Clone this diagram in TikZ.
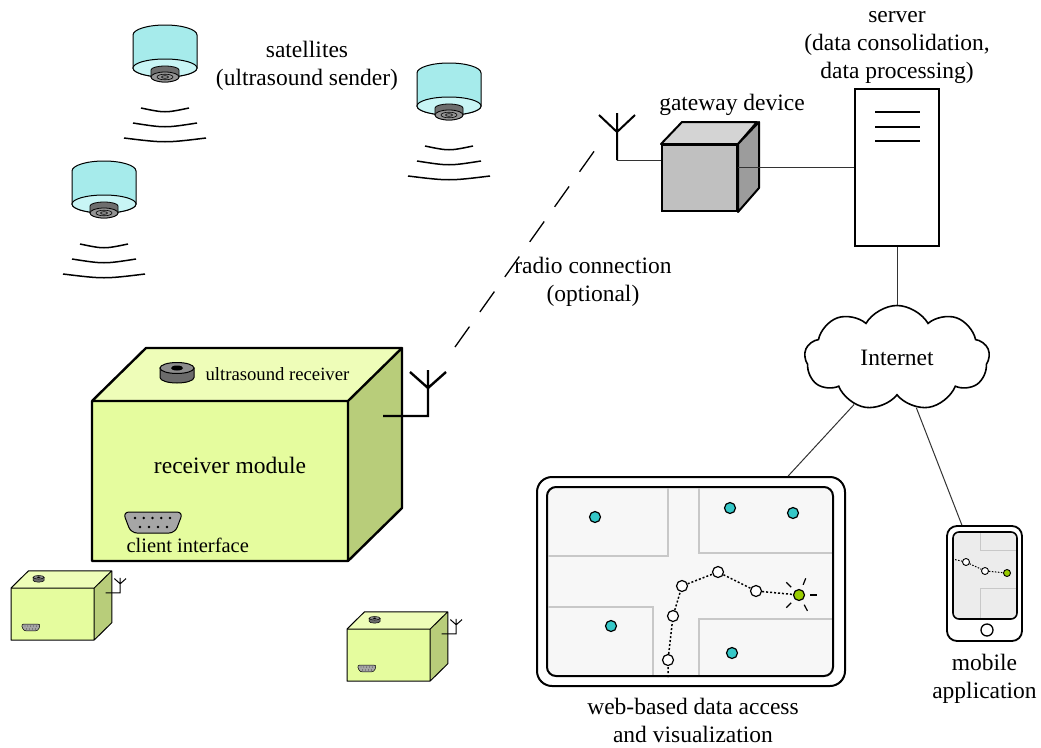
\documentclass[tikz,border=0pt]{standalone}
\usepackage{fontspec}
\setmainfont{Liberation Serif}
\usetikzlibrary{
  positioning,
  shapes.symbols,
}

\definecolor{satbody}{HTML}{A6EBEB}
\definecolor{satbase}{HTML}{C8F5F5}
\definecolor{modfront}{HTML}{E5FC9E}
\definecolor{modtop}{HTML}{EEFDB8}
\definecolor{modside}{HTML}{B8CD7A}
\definecolor{gwfront}{HTML}{C0C0C0}
\definecolor{gwtop}{HTML}{D4D4D4}
\definecolor{gwside}{HTML}{9C9C9C}
\definecolor{mapbg}{HTML}{F7F7F7}
\definecolor{phonebg}{HTML}{ECECEC}
\definecolor{streetgray}{HTML}{C8C8C8}
\definecolor{shopcyan}{HTML}{35C8C8}
\definecolor{herelime}{HTML}{99CC00}

\tikzset{
  lbl/.style={font=\fontsize{23.5}{28}\selectfont, align=center},
  mod edge/.style={line width=2.4},
  mod thin/.style={line width=1},
  plug/.style={rounded corners=6},
  wave/.style={line width=1.5},
  antenna/.style={line width=2},
  net/.style={line width=1, black!80},
  street/.style={line width=1.3, streetgray},
  track/.style={line width=1.5, dash pattern=on 2pt off 2pt},
  stop/.style={circle, draw, fill=white, line width=1.2, minimum size=11, inner sep=0pt},
  shop/.style={fill=shopcyan, draw, line width=1.2},
  small module/.style={scale=0.325,
    mod edge/.style={line width=1},
    mod thin/.style={line width=0.5},
    plug/.style={rounded corners=2.5}},
  % ceiling satellite, seen from below
  satellite/.pic={
    \filldraw[satbody, draw=black, line width=1]
      (-32,10) arc[start angle=180, end angle=360, x radius=32, y radius=10]
      -- (32,43) arc[start angle=0, end angle=180, x radius=32, y radius=9] -- cycle;
    \filldraw[satbase, draw=black, line width=1] (0,43) ellipse[x radius=32, y radius=9];
    \filldraw[black!57, draw=black, line width=0.8]
      (-14,45) arc[start angle=180, end angle=360, x radius=14, y radius=4]
      -- (14,52) arc[start angle=0, end angle=180, x radius=14, y radius=5] -- cycle;
    \filldraw[black!42, draw=black, line width=0.8] (0,52) ellipse[x radius=14, y radius=5];
    \draw[line width=0.6] (0,52) ellipse[x radius=8, y radius=2.8]
      (0,52) ellipse[x radius=3.5, y radius=1.3];
    \foreach \d/\w in {85/24, 100/32, 115/41}
      \draw[wave] (-\w,\d-2) .. controls (0,\d+3) .. (\w,\d-2);
  },
  % receiver box with sensor, connector and antenna
  recv module/.pic={
    \fill[modfront] (0,0) rectangle (256,160);
    \fill[modtop] (0,0) -- (54,-53) -- (310,-53) -- (256,0) -- cycle;
    \fill[modside] (256,0) -- (310,-53) -- (310,107) -- (256,160) -- cycle;
    \draw[mod edge, line join=round] (0,0) rectangle (256,160)
      (0,0) -- (54,-53) -- (310,-53) -- (256,0)
      (310,-53) -- (310,107) -- (256,160);
    % ultrasound sensor
    \filldraw[black!58, draw=black, mod thin] (68,-33) -- (68,-23.5)
      arc[start angle=180, end angle=0, x radius=17, y radius=5.5] -- (102,-33) -- cycle;
    \filldraw[black!45, draw=black, mod thin] (85,-33) ellipse[x radius=17, y radius=5.5];
    \fill (85,-33) ellipse[x radius=6, y radius=2.5];
    % client connector
    \filldraw[black!35, draw=black, mod thin, plug]
      (31,111) -- (91,111) -- (83,132) -- (39,132) -- cycle;
    \foreach \x in {43,51.75,60.5,69.25,78} \fill (\x,117) circle[radius=1.3];
    \foreach \x in {48,57,66,75} \fill (\x,126) circle[radius=1.3];
    % antenna
    \draw[mod edge] (291,15) -- (336,15) -- (336,-31)
      (318,-29) -- (336,-13) -- (354,-29);
  },
}

\begin{document}
\begin{tikzpicture}[x=1pt, y=-1pt]
  \useasboundingbox (0,0) rectangle (1041,747);

  % satellites on the ceiling
  \pic at (165,25) {satellite};
  \pic at (449,63) {satellite};
  \pic at (104,161) {satellite};
  \node[lbl] (satlabel) at (307,66) {satellites\\(ultrasound sender)};

  % receiver modules
  \pic at (92,401) {recv module};
  \pic[small module] at (11,588) {recv module};
  \pic[small module] at (347,629) {recv module};
  \node[font=\fontsize{18.7}{22}\selectfont, anchor=west] (sensorlabel) at (202,374) {ultrasound receiver};
  \node[lbl] (modlabel) at (230,465) {receiver module};
  \node[font=\fontsize{20.5}{24}\selectfont, anchor=west] (iflabel) at (123,545) {client interface};

  % gateway
  \node[draw, fill=gwfront, line width=2, minimum width=75, minimum height=66, inner sep=0pt]
    (gateway) at (699.5,178) {};
  \filldraw[gwtop, draw=black, line width=2, line join=round]
    (gateway.north west) -- ++(21,-22) -- ++(75,0) -- (gateway.north east) -- cycle;
  \filldraw[gwside, draw=black, line width=2, line join=round]
    (gateway.north east) -- ++(21,-22) -- ++(0,66) -- (gateway.south east) -- cycle;
  \node[lbl] (gwlabel) at (732,105) {gateway device};

  \coordinate (gw ant) at (617,160);
  \draw[antenna] (617,113) -- (gw ant) (599,115) -- (617,132) -- (635,115);
  \draw[net] (gw ant) -- (gw ant -| gateway.west);

  % radio link
  \coordinate (radio a) at (455,347);
  \coordinate (radio b) at (595,150);
  \draw[line width=1.3, dash pattern=on 25pt off 18pt] (radio a) -- (radio b);
  \node[lbl] (radiolabel) at (593,282) {radio connection\\(optional)};

  % server
  \node[draw, fill=white, line width=1.6, minimum width=84, minimum height=157, inner sep=0pt]
    (server) at (897,167.5) {};
  \foreach \y in {112,127,141}
    \draw[line width=1.6] (875,\y) -- (920,\y);
  \node[lbl] (srvlabel) at (897,47) {server\\(data consolidation,\\data processing)};
  \draw[net] (server.west) -- (server.west -| gateway.east);

  % internet
  \node[lbl, cloud, cloud puffs=9, cloud puff arc=120, aspect=1.76, draw, fill=white,
        line width=1.6, minimum width=185, minimum height=105, inner sep=0pt]
    (internet) at (897,358) {Internet};
  \draw[net] (server) -- (internet);

  % web map
  \node[draw, line width=2, rounded corners=15, minimum width=308, minimum height=209]
    (tablet) at (691,581.5) {};
  \node[draw, fill=mapbg, line width=2, rounded corners=9, minimum width=286, minimum height=189]
    (map) at (690,581.5) {};
  \draw[street] (668,488) -- (668,556) -- (548,556)
    (699,488) -- (699,553) -- (832,553)
    (548,607) -- (653,607) -- (653,675)
    (699,675) -- (699,619) -- (832,619);
  \foreach \p in {(595,517),(730,508),(793,513),(611,626),(732,653)}
    \filldraw[shop] \p circle[radius=5.5];
  \node[stop] (s1) at (668,660) {};
  \node[stop] (s2) at (673,616) {};
  \node[stop] (s3) at (682,586) {};
  \node[stop] (s4) at (718,572) {};
  \node[stop] (s5) at (756,591) {};
  \node[stop, fill=herelime] (here) at (799,595) {};
  \draw[track] (s1 |- map.south) -- (s1) -- (s2) -- (s3) -- (s4) -- (s5) -- (here);
  \foreach \a in {0,62,135,225,292}
    \draw[line width=1.2] (here) ++(\a:11) -- ++(\a:7);
  \node[lbl, inner sep=0pt] (weblabel) at (693,720) {web-based data access\\and visualization};
  \draw[net] (internet) -- (tablet);

  % phone
  \node[draw, line width=1.8, rounded corners=10, minimum width=75, minimum height=115]
    (phone) at (984.5,583.5) {};
  \node[draw, fill=phonebg, line width=1.6, rounded corners=6, minimum width=64, minimum height=87]
    (screen) at (985,575.5) {};
  \draw[street, line width=1] (980,533) -- (980,550) -- (1016,550)
    (1016,588) -- (980,588) -- (980,618);
  \draw[line width=1.3] (987,630) circle[radius=6];
  \node[stop, minimum size=7, line width=0.9] (p1) at (966,562) {};
  \node[stop, minimum size=7, line width=0.9] (p2) at (985,571) {};
  \node[stop, minimum size=7, line width=0.9, fill=herelime] (p3) at (1007,573) {};
  \draw[track, line width=1, dash pattern=on 1.5pt off 1.5pt]
    (screen.west |- 0,559) -- (p1) -- (p2) -- (p3);
  \node[lbl, below=9pt of phone] (applabel) {mobile\\application};
  \draw[net] (internet) -- (phone);
\end{tikzpicture}
\end{document}
